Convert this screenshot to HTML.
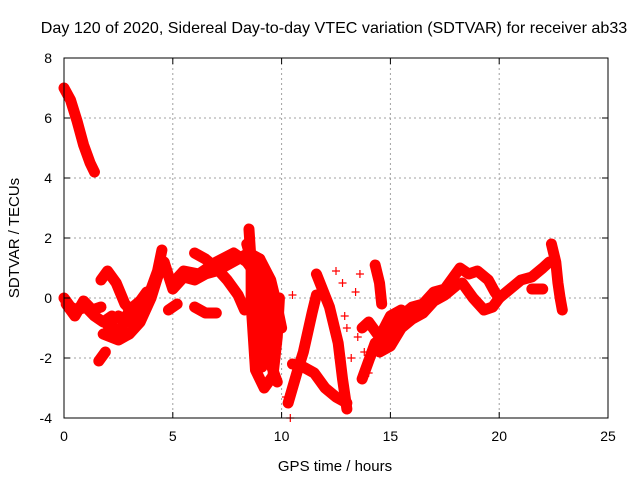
<!DOCTYPE html>
<html><head><meta charset="utf-8"><style>
body{margin:0;background:#fff}
svg{font-family:"Liberation Sans",sans-serif;font-size:14px}
</style></head><body>
<svg id="chart" width="640" height="480">
<text x="334" y="33" text-anchor="middle" style="font-size:16.1px">Day 120 of 2020, Sidereal Day-to-day VTEC variation (SDTVAR) for receiver ab33</text>
<text x="335" y="471" text-anchor="middle" style="font-size:15px">GPS time / hours</text>
<text transform="translate(19,238) rotate(-90)" text-anchor="middle" style="font-size:15px">SDTVAR / TECUs</text>
<g id="grid"></g><g id="marks"></g><g id="axes"></g>
</svg>
<script>
const xTicks=[0,5,10,15,20,25];
const yTicks=[-4,-2,0,2,4,6,8];
const trackSteep=[[0,7.0],[0.3,6.6],[0.6,5.9],[0.9,5.1],[1.2,4.5],[1.4,4.2]];
const trackStart=[[0,0],[0.3,-0.3],[0.6,-0.4],[1,-0.3],[1.4,-0.6],[1.8,-0.8],[2.2,-0.6]];
const trackStart2=[[0.1,-0.2],[0.5,-0.6],[0.9,-0.1],[1.3,-0.4],[1.7,-0.3]];
const trackHump=[[1.7,0.6],[2,0.9],[2.4,0.5],[2.8,-0.2],[3.2,-0.5],[3.6,-0.3],[4,0.3],[4.3,0.9],[4.5,1.6]];
const trackLow=[[1.8,-1.2],[2.5,-1.4],[3,-1.2],[3.5,-0.8],[4,0],[4.3,0.7],[4.6,1.2]];
const trackLow2=[[2,-0.9],[2.5,-0.6],[3,-0.8],[3.3,-0.3],[3.8,0.2]];
const trackLow3=[[2.2,-1.0],[2.6,-1.1],[3.0,-0.4],[3.5,-0.1]];
const trackIsle=[[1.6,-2.1],[1.9,-1.8]];
const trackMain=[[4.6,1.2],[5,0.3],[5.5,0.7],[6,0.6],[6.5,0.8],[7,0.9],[7.5,1.1],[8,1.3],[8.5,1.5],[9,1.3],[9.5,0.6],[9.8,-0.3],[10,-1]];
const trackMain2=[[5,0.5],[5.5,0.9],[6.2,0.8],[7,1.2],[7.8,1.5],[8.4,1.2],[9,0.6],[9.5,0.2],[9.8,-0.8]];
const trackUpper=[[6,1.5],[6.5,1.3],[7,1.0],[7.5,0.6],[8,0.1],[8.3,-0.4]];
const trackShort=[[6,-0.3],[6.5,-0.5],[7,-0.5]];
const trackSmall=[[4.8,-0.4],[5.2,-0.2]];
const trackDrop1=[[8.5,2.3],[8.6,1.2],[8.6,-0.2],[8.7,-1.3],[8.8,-2.4],[9.2,-3.0],[9.6,-2.6],[9.8,-1.3],[9.9,0]];
const trackDrop2=[[9,1.3],[9.3,0.2],[9.4,-1.2],[9.5,-2.2],[9.8,-2.8]];
const trackDrop3=[[8.4,1.8],[8.9,0.5],[9.0,-1.5],[9.1,-2.3]];
const trackRise=[[10.3,-3.5],[10.7,-2.5],[11,-1.8],[11.4,-0.5],[11.6,0.1]];
const trackFall=[[11.6,0.8],[12.2,-0.3],[12.6,-1.5],[12.8,-2.7],[13,-3.7]];
const trackLowB=[[10.5,-2.2],[11,-2.3],[11.5,-2.5],[12,-3.0],[12.5,-3.3],[13,-3.5]];
const trackSpike=[[14.3,1.1],[14.5,0.5],[14.6,-0.2]];
const trackClimb=[[13.7,-2.7],[14.3,-1.5],[15,-1.2],[15.5,-0.6],[16,-0.3],[16.5,-0.2],[17,0.2],[17.5,0.3],[18,0.8],[18.2,1.0],[18.6,0.8],[19,0.9],[19.5,0.6],[19.8,0.2],[20,0],[20.5,0.3],[21,0.6],[21.5,0.7],[22,1.0],[22.3,1.2]];
const trackClimb2=[[14.5,-1.8],[15,-1.6],[15.5,-1.0],[16,-0.7],[16.5,-0.5],[17,-0.1],[17.5,0.1],[18,0.4]];
const trackLoopLow=[[18.3,0.5],[18.8,0],[19.3,-0.4],[19.7,-0.3],[20,0]];
const trackSide=[[21.5,0.3],[22,0.3]];
const trackEnd=[[22.4,1.8],[22.6,1.2],[22.7,0.5],[22.8,0],[22.9,-0.4]];
const trackMid=[[13.7,-1.0],[14,-0.8],[14.5,-1.3],[15,-0.6],[15.5,-0.4]];
const scatterPts=[[12.5,0.9],[12.8,0.5],[13,-1],[12.7,-1.8],[13.6,0.8],[13.8,-1.8],[10.4,-4],[9.7,-0.1],[8.9,-1.5],[10.2,-3.3],[13.4,0.2],[12.9,-0.6],[13.2,-2.0],[14.0,-2.5],[13.5,-1.3],[10.5,0.1]];
const tracks=[trackSteep,trackStart,trackStart2,trackHump,trackLow,trackLow2,trackLow3,trackIsle,trackMain,trackMain2,trackUpper,trackShort,trackSmall,trackDrop1,trackDrop2,trackDrop3,trackRise,trackFall,trackLowB,trackSpike,trackClimb,trackClimb2,trackLoopLow,trackSide,trackEnd,trackMid];

const L=64,R=608,T=58,B=418;
const xs=h=>L+(h-0)/25*(R-L);
const ys=v=>B-(v+4)/12*(B-T);
const NS='http://www.w3.org/2000/svg';
const grid=document.getElementById('grid'),marks=document.getElementById('marks'),axes=document.getElementById('axes');
function mk(t,a,p){const e=document.createElementNS(NS,t);for(const k in a)e.setAttribute(k,a[k]);p.appendChild(e);return e;}
xTicks.forEach(t=>{
  if(t>0&&t<25){const g=mk('line',{x1:xs(t),x2:xs(t),y1:T,y2:B,stroke:'#a0a0a0','stroke-dasharray':'2,3'},grid);
  
  }
  const k=mk('line',{x1:xs(t),x2:xs(t),y1:B,y2:B-6,stroke:'#000'},axes);
  
  
  const k2=mk('line',{x1:xs(t),x2:xs(t),y1:T,y2:T+6,stroke:'#000'},axes);
  
  
  const tx=mk('text',{x:xs(t),y:B+23,'text-anchor':'middle'},axes);tx.textContent=t;
  
  
});
yTicks.forEach(t=>{
  if(t>-4&&t<8){const g=mk('line',{x1:L,x2:R,y1:ys(t),y2:ys(t),stroke:'#a0a0a0','stroke-dasharray':'2,3'},grid);
  
  }
  const k=mk('line',{x1:L,x2:L+6,y1:ys(t),y2:ys(t),stroke:'#000'},axes);
  
  
  const k2=mk('line',{x1:R,x2:R-6,y1:ys(t),y2:ys(t),stroke:'#000'},axes);
  
  
  const tx=mk('text',{x:L-12,y:ys(t)+5,'text-anchor':'end'},axes);tx.textContent=t;
  
  
});
const box=mk('rect',{x:L,y:T,width:R-L,height:B-T,fill:'none',stroke:'#000'},axes);


function plus(h,v,p){const x=xs(h),y=ys(v);
  const e=mk('path',{d:`M${x-4} ${y}h8M${x} ${y-4}v8`,stroke:'#f00','stroke-width':1.2},p);
  
  }
tracks.forEach(tr=>{
  const pl=mk('polyline',{points:tr.map(p=>xs(p[0])+','+ys(p[1])).join(' '),fill:'none',stroke:'#f00','stroke-width':11,'stroke-linejoin':'round','stroke-linecap':'round'},marks);
  
  
  tr.forEach(p=>plus(p[0],p[1],marks));
});
scatterPts.forEach(p=>plus(p[0],p[1],marks));
</script>
</body></html>
